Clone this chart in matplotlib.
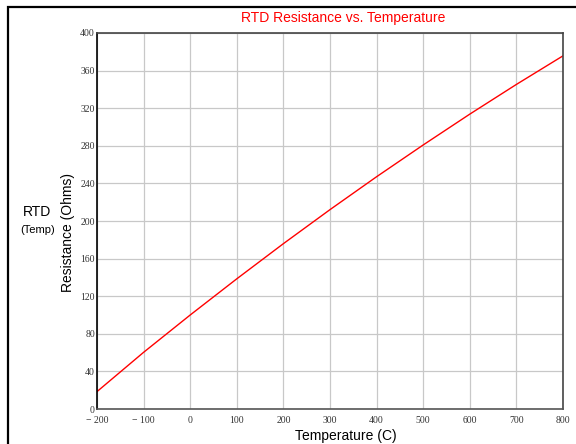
import matplotlib
matplotlib.use("Agg")
import matplotlib.pyplot as plt
from matplotlib.patches import Rectangle

# valores
temp = [-200, -100, 0, 100, 200, 300, 400, 500, 600, 700, 800]
resist = [18.5, 60.3, 100.0, 138.5, 175.9, 212.1, 247.1, 280.9, 313.7, 345.3, 375.7]

xticks = [-200, -100, 0, 100, 200, 300, 400, 500, 600, 700, 800]
xlabels = ['\u2212 200', '\u2212 100', '0', '100', '200', '300', '400', '500', '600', '700', '800']
yticks = [0, 40, 80, 120, 160, 200, 240, 280, 320, 360, 400]

fig = plt.figure(figsize=(5.76, 4.44), dpi=100)
ax = fig.add_axes([97/576, 35/444, 466/576, 376/444])

ax.plot(temp, resist, color='red', lw=1.0)

ax.set_xlim(-200, 800)
ax.set_ylim(0, 400)
ax.set_xticks(xticks)
ax.set_xticklabels(xlabels)
ax.set_yticks(yticks)
ax.tick_params(length=0, labelsize=7, labelcolor='#333333')
ax.tick_params(axis='x', pad=5)
ax.tick_params(axis='y', pad=1.5)
for lab in ax.get_xticklabels() + ax.get_yticklabels():
    lab.set_family('Liberation Serif')
ax.grid(True, color='#c8c8c8', lw=0.9)
for s in ax.spines.values():
    s.set_color('#444444')
    s.set_linewidth(1.2)
ax.spines['left'].set_color('black')
ax.spines['bottom'].set_color('#555555')

fig.text(343/576, 1 - 18/444, 'RTD Resistance vs. Temperature', color='red',
         fontsize=10, family='Liberation Sans', ha='center', va='center')
fig.text(346/576, 1 - 436/444, 'Temperature (C)', fontsize=10,
         family='Liberation Sans', ha='center', va='center')
fig.text(68/576, 1 - 233/444, 'Resistance (Ohms)', fontsize=10, rotation=90,
         family='Liberation Sans', ha='center', va='center')
fig.text(37/576, 1 - 212/444, 'RTD', fontsize=10,
         family='Liberation Sans', ha='center', va='center')
fig.text(38/576, 1 - 230/444, '(Temp)', fontsize=8,
         family='Liberation Sans', ha='center', va='center')

# moldura
fig.patches.append(Rectangle((7.5/576, -0.1), 1.2, 1 - 7.5/444 + 0.1,
                             transform=fig.transFigure, fill=False,
                             ec='black', lw=1.6))

fig.savefig('out.png', dpi=100)
